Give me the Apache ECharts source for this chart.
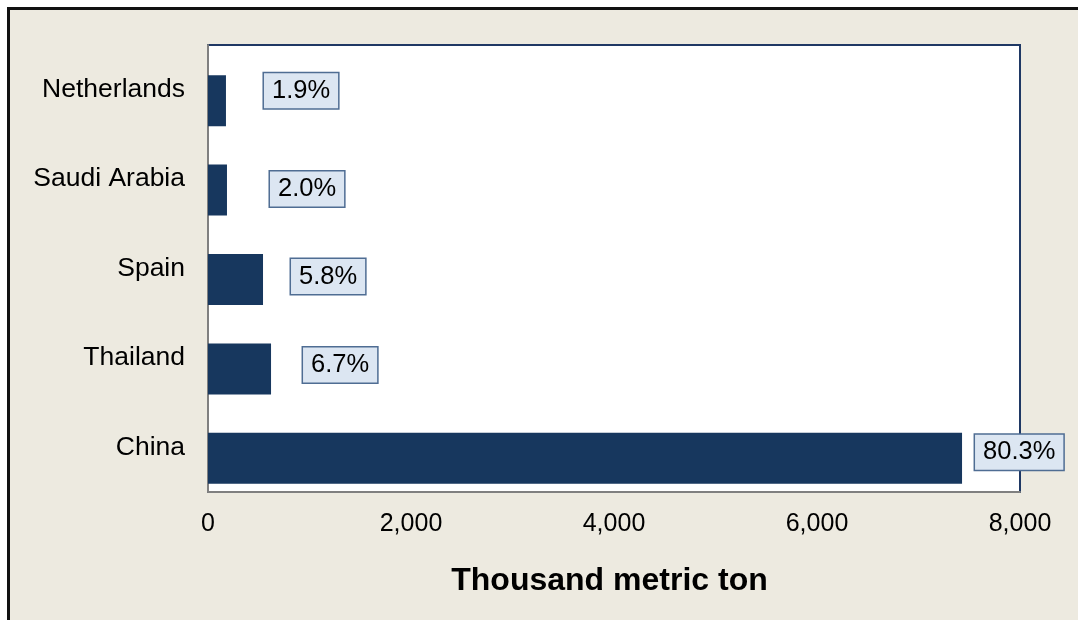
<!DOCTYPE html>
<html>
<head>
<meta charset="utf-8">
<script src="https://cdn.jsdelivr.net/npm/echarts@6/dist/echarts.min.js"></script>
<style>
  html, body { margin: 0; padding: 0; background: #ffffff; }
  #bg { position: absolute; left: 7px; top: 7px; right: 0; bottom: 0; background: #EDEAE0; border-top: 3px solid #111; border-left: 3px solid #111; }
  #chart { position: absolute; left: 0; top: 0; width: 1078px; height: 620px; }
</style>
</head>
<body>
<div id="bg"></div>
<div id="chart"></div>
<script>
const categories = ['China', 'Thailand', 'Spain', 'Saudi Arabia', 'Netherlands'];
const values = [7429, 621, 542, 187, 177];
const shares = ['80.3%', '6.7%', '5.8%', '2.0%', '1.9%'];
const xTicks = [0, 2000, 4000, 6000, 8000];
const axisTitle = 'Thousand metric ton';

// per-label placement (the original labels were nudged by hand)
const labelOffsets = [[8, -6], [27, -4], [23, -3], [38, -1], [33, -10]];

const chart = echarts.init(document.getElementById('chart'), null, { renderer: 'canvas' });
const font = 'Liberation Sans, Arial, sans-serif';

const barData = values.map((v, i) => ({
  value: v,
  label: { offset: labelOffsets[i] }
}));

chart.setOption({
  backgroundColor: 'transparent',
  animation: false,
  grid: [
    { left: 208, top: 45, width: 812, height: 447, show: true, backgroundColor: '#ffffff', borderColor: '#1F3864', borderWidth: 2, containLabel: false },
    { left: 208, top: 56, width: 812, height: 447, show: false, containLabel: false }
  ],
  xAxis: [
    {
      gridIndex: 0, type: 'value', min: xTicks[0], max: xTicks[xTicks.length - 1], interval: xTicks[1] - xTicks[0],
      name: axisTitle, nameLocation: 'middle', nameGap: 73,
      nameTextStyle: { fontFamily: font, fontSize: 32, fontWeight: 'bold', color: '#000', padding: [0, 9, 0, 0] },
      axisLine: { show: true, lineStyle: { color: '#808080', width: 2 } },
      axisTick: { show: false },
      splitLine: { show: false },
      axisLabel: { fontFamily: font, fontSize: 25, color: '#000', margin: 20, formatter: v => v.toLocaleString('en-US') }
    },
    {
      gridIndex: 1, type: 'value', min: xTicks[0], max: xTicks[xTicks.length - 1], show: false
    }
  ],
  yAxis: [
    {
      gridIndex: 0, type: 'category', data: categories,
      axisLine: { show: true, lineStyle: { color: '#808080', width: 2 } },
      axisTick: { show: false },
      axisLabel: { fontFamily: font, fontSize: 26.5, color: '#000', margin: 23 }
    },
    {
      gridIndex: 1, type: 'category', data: categories, show: false
    }
  ],
  series: [
    {
      type: 'bar', xAxisIndex: 1, yAxisIndex: 1,
      data: barData,
      barWidth: 51,
      itemStyle: { color: '#17375E' },
      label: {
        show: true, position: 'right', distance: 5,
        formatter: p => shares[p.dataIndex],
        fontFamily: font, fontSize: 25.5, color: '#000',
        backgroundColor: '#DCE6F2', borderColor: '#4F6D93', borderWidth: 1.5,
        padding: [5, 8, 4, 8]
      }
    }
  ]
});
</script>
</body>
</html>
